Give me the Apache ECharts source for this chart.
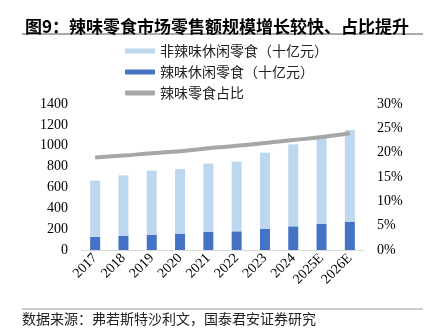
<!DOCTYPE html>
<html><head><meta charset="utf-8">
<script src="https://cdn.jsdelivr.net/npm/echarts@6/dist/echarts.min.js"></script>
<style>html,body{margin:0;padding:0;background:#fff}#c{width:433px;height:332px}</style>
</head><body><div id="c"></div>
<script>
var categories = ['2017','2018','2019','2020','2021','2022','2023','2024','2025E','2026E'];
var spicy = [125, 137, 147, 157, 173, 179, 205, 227, 252, 272];
var nonSpicy = [540, 579, 614, 620, 655, 668, 728, 786, 825, 879];
var share = [19.0, 19.4, 19.9, 20.3, 20.9, 21.4, 22.0, 22.6, 23.2, 24.0];
var leftTicks = [0, 1400, 200];
var rightTicks = [0, 30, 5];

var chart = echarts.init(document.getElementById('c'));
var serif = '"Liberation Serif", "Times New Roman", serif';
var cjk = '"Noto Sans CJK SC", sans-serif';
chart.setOption({
  animation: false,
  title: {
    text: '图9：辣味零食市场零售额规模增长较快、占比提升',
    left: 20, top: 13,
    textStyle: {fontFamily: cjk, fontSize: 17, fontWeight: 'bold', color: '#000'}
  },
  graphic: [
    {type: 'line', shape: {x1: 22, y1: 34, x2: 423, y2: 34}, style: {stroke: '#555', lineWidth: 1}},
    {type: 'line', shape: {x1: 22, y1: 309, x2: 423, y2: 309}, style: {stroke: '#999', lineWidth: 1}},
    {type: 'text', left: 22, top: 312, style: {text: '数据来源：弗若斯特沙利文，国泰君安证券研究', font: '14px "Noto Sans CJK SC"', fill: '#222'}}
  ],
  legend: {
    orient: 'vertical', left: 120, top: 39, itemGap: 7,
    itemWidth: 30, itemHeight: 5,
    textStyle: {fontFamily: cjk, fontSize: 14, color: '#222'},
    data: [
      {name: '非辣味休闲零食（十亿元）', icon: 'rect'},
      {name: '辣味休闲零食（十亿元）', icon: 'rect'},
      {name: '辣味零食占比', icon: 'roundRect'}
    ]
  },
  grid: {left: 81, right: 69, top: 104, bottom: 82},
  xAxis: {
    type: 'category', data: categories,
    axisLine: {lineStyle: {color: '#d9d9d9'}},
    axisTick: {show: false},
    axisLabel: {rotate: 45, interval: 0, fontFamily: serif, fontSize: 14, color: '#000', margin: 6}
  },
  yAxis: [
    {type: 'value', min: leftTicks[0], max: leftTicks[1], interval: leftTicks[2],
     splitLine: {show: false}, axisLine: {show: false}, axisTick: {show: false},
     axisLabel: {fontFamily: serif, fontSize: 14, color: '#000', margin: 13, formatter: function (v) { return String(v); }}},
    {type: 'value', min: rightTicks[0], max: rightTicks[1], interval: rightTicks[2],
     splitLine: {show: false}, axisLine: {show: false}, axisTick: {show: false},
     axisLabel: {fontFamily: serif, fontSize: 14, color: '#000', margin: 13, formatter: '{value}%'}}
  ],
  series: [
    {name: '辣味休闲零食（十亿元）', type: 'bar', stack: 's', data: spicy, barWidth: 10,
     itemStyle: {color: '#4472c4'}},
    {name: '非辣味休闲零食（十亿元）', type: 'bar', stack: 's', data: nonSpicy, barWidth: 10,
     itemStyle: {color: '#bdd7ee'}},
    {name: '辣味零食占比', type: 'line', yAxisIndex: 1, data: share, symbol: 'none', smooth: true,
     lineStyle: {color: '#a6a6a6', width: 4}, itemStyle: {color: '#a6a6a6'}}
  ]
});
</script></body></html>
